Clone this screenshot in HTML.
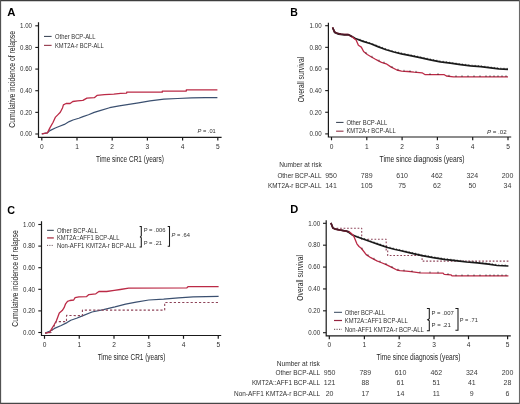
<!DOCTYPE html>
<html><head><meta charset="utf-8"><style>
html,body{margin:0;padding:0;background:#fff;}
#wrap{position:relative;width:520px;height:404px;overflow:hidden;background:#fff;}
svg{position:absolute;left:0;top:0;filter:blur(0.35px);}
text{font-family:"Liberation Sans", sans-serif;}
</style></head><body><div id="wrap">
<svg width="520" height="404" viewBox="0 0 520 404" font-family='"Liberation Sans", sans-serif'>
<rect x="0" y="0" width="520" height="404" fill="#fff"/>
<line x1="0" y1="0.55" x2="520" y2="0.55" stroke="#3d3d3d" stroke-width="1.2"/>
<line x1="0" y1="403.4" x2="520" y2="403.4" stroke="#474747" stroke-width="1.3"/>
<line x1="0.55" y1="0" x2="0.55" y2="404" stroke="#525252" stroke-width="1.15"/>
<line x1="519.5" y1="0" x2="519.5" y2="404" stroke="#6a6a6a" stroke-width="1.1"/>
<text x="7.2" y="16.4" font-size="11.5" text-anchor="start" fill="#000" font-weight="bold" textLength="8.2" lengthAdjust="spacingAndGlyphs">A</text>
<path d="M38.5,22.2 V137.3 H221.6" fill="none" stroke="#1a1a1a" stroke-width="1.2"/>
<line x1="35.3" y1="134.0" x2="38.5" y2="134.0" stroke="#1a1a1a" stroke-width="1.1"/>
<text x="32.0" y="136.25" font-size="6.3" text-anchor="end" fill="#303030" textLength="12.0" lengthAdjust="spacingAndGlyphs">0.00</text>
<line x1="35.3" y1="112.36" x2="38.5" y2="112.36" stroke="#1a1a1a" stroke-width="1.1"/>
<text x="32.0" y="114.61" font-size="6.3" text-anchor="end" fill="#303030" textLength="12.0" lengthAdjust="spacingAndGlyphs">0.20</text>
<line x1="35.3" y1="90.72" x2="38.5" y2="90.72" stroke="#1a1a1a" stroke-width="1.1"/>
<text x="32.0" y="92.97" font-size="6.3" text-anchor="end" fill="#303030" textLength="12.0" lengthAdjust="spacingAndGlyphs">0.40</text>
<line x1="35.3" y1="69.08" x2="38.5" y2="69.08" stroke="#1a1a1a" stroke-width="1.1"/>
<text x="32.0" y="71.33" font-size="6.3" text-anchor="end" fill="#303030" textLength="12.0" lengthAdjust="spacingAndGlyphs">0.60</text>
<line x1="35.3" y1="47.44" x2="38.5" y2="47.44" stroke="#1a1a1a" stroke-width="1.1"/>
<text x="32.0" y="49.69" font-size="6.3" text-anchor="end" fill="#303030" textLength="12.0" lengthAdjust="spacingAndGlyphs">0.80</text>
<line x1="35.3" y1="25.799999999999997" x2="38.5" y2="25.799999999999997" stroke="#1a1a1a" stroke-width="1.1"/>
<text x="32.0" y="28.05" font-size="6.3" text-anchor="end" fill="#303030" textLength="12.0" lengthAdjust="spacingAndGlyphs">1.00</text>
<line x1="41.8" y1="137.3" x2="41.8" y2="140.60000000000002" stroke="#1a1a1a" stroke-width="1.2"/>
<text x="41.8" y="149.1" font-size="6.6" text-anchor="middle" fill="#303030">0</text>
<line x1="77.0" y1="137.3" x2="77.0" y2="140.60000000000002" stroke="#1a1a1a" stroke-width="1.2"/>
<text x="77.0" y="149.1" font-size="6.6" text-anchor="middle" fill="#303030">1</text>
<line x1="112.2" y1="137.3" x2="112.2" y2="140.60000000000002" stroke="#1a1a1a" stroke-width="1.2"/>
<text x="112.2" y="149.1" font-size="6.6" text-anchor="middle" fill="#303030">2</text>
<line x1="147.4" y1="137.3" x2="147.4" y2="140.60000000000002" stroke="#1a1a1a" stroke-width="1.2"/>
<text x="147.4" y="149.1" font-size="6.6" text-anchor="middle" fill="#303030">3</text>
<line x1="182.60000000000002" y1="137.3" x2="182.60000000000002" y2="140.60000000000002" stroke="#1a1a1a" stroke-width="1.2"/>
<text x="182.60000000000002" y="149.1" font-size="6.6" text-anchor="middle" fill="#303030">4</text>
<line x1="217.8" y1="137.3" x2="217.8" y2="140.60000000000002" stroke="#1a1a1a" stroke-width="1.2"/>
<text x="217.8" y="149.1" font-size="6.6" text-anchor="middle" fill="#303030">5</text>
<text x="14.6" y="79.4" font-size="8.8" text-anchor="middle" fill="#1e1e1e" textLength="96.8" lengthAdjust="spacingAndGlyphs" transform="rotate(-90 14.6 79.4)">Cumulative incidence of relapse</text>
<text x="130.0" y="161.7" font-size="8.9" text-anchor="middle" fill="#1e1e1e" textLength="67.8" lengthAdjust="spacingAndGlyphs">Time since CR1 (years)</text>
<line x1="44.0" y1="36.4" x2="51.6" y2="36.4" stroke="#2e3a4c" stroke-width="1.0"/>
<text x="55.0" y="38.65" font-size="6.3" text-anchor="start" fill="#303030" textLength="40.6" lengthAdjust="spacingAndGlyphs">Other BCP-ALL</text>
<line x1="44.0" y1="45.4" x2="51.6" y2="45.4" stroke="#9a4556" stroke-width="1.2"/>
<text x="55.0" y="47.65" font-size="6.3" text-anchor="start" fill="#303030" textLength="48.8" lengthAdjust="spacingAndGlyphs">KMT2A-r BCP-ALL</text>
<text x="197.6" y="132.6" font-size="5.9" fill="#303030" textLength="18.2" lengthAdjust="spacingAndGlyphs"><tspan font-style="italic">P</tspan> = .01</text>
<polyline points="41.8,133.8 47.4,132.9 49.9,130.6 55.3,128.0 59.6,126.3 64.4,124.4 69.2,121.6 73.0,120.0 78.8,118.2 83.0,116.6 88.5,114.8 94.2,112.4 100.0,110.6 109.6,107.7 119.2,105.8 128.8,104.4 138.5,102.9 150.0,100.9 163.9,99.2 177.7,98.5 191.5,97.8 205.4,97.7 217.4,97.6" fill="none" stroke="#3b5070" stroke-width="1.2" stroke-linejoin="round"/>
<polyline points="41.8,133.8 47.4,132.9 49.9,127.9 53.1,122.3 55.5,117.1 58.0,114.6 60.3,112.2 62.6,107.7 63.4,104.8 66.1,103.5 70.1,103.5 72.8,101.5 77.5,100.8 82.9,100.4 86.9,98.1 94.3,97.7 97.0,95.4 104.4,94.7 113.8,94.1 120.6,93.3 126.7,93.1 126.7,92.2 162.3,92.2 162.3,91.1 186.3,91.1 186.3,89.9 217.4,89.9" fill="none" stroke="#bb2a46" stroke-width="1.3" stroke-linejoin="round"/>
<text x="290.2" y="16.4" font-size="11.5" text-anchor="start" fill="#000" font-weight="bold" textLength="7.6" lengthAdjust="spacingAndGlyphs">B</text>
<path d="M328.4,22.8 V137.0 H511.2" fill="none" stroke="#1a1a1a" stroke-width="1.2"/>
<line x1="325.2" y1="133.9" x2="328.4" y2="133.9" stroke="#1a1a1a" stroke-width="1.1"/>
<text x="321.6" y="136.15" font-size="6.3" text-anchor="end" fill="#303030" textLength="12.0" lengthAdjust="spacingAndGlyphs">0.00</text>
<line x1="325.2" y1="112.26" x2="328.4" y2="112.26" stroke="#1a1a1a" stroke-width="1.1"/>
<text x="321.6" y="114.51" font-size="6.3" text-anchor="end" fill="#303030" textLength="12.0" lengthAdjust="spacingAndGlyphs">0.20</text>
<line x1="325.2" y1="90.62" x2="328.4" y2="90.62" stroke="#1a1a1a" stroke-width="1.1"/>
<text x="321.6" y="92.87" font-size="6.3" text-anchor="end" fill="#303030" textLength="12.0" lengthAdjust="spacingAndGlyphs">0.40</text>
<line x1="325.2" y1="68.98" x2="328.4" y2="68.98" stroke="#1a1a1a" stroke-width="1.1"/>
<text x="321.6" y="71.23" font-size="6.3" text-anchor="end" fill="#303030" textLength="12.0" lengthAdjust="spacingAndGlyphs">0.60</text>
<line x1="325.2" y1="47.34" x2="328.4" y2="47.34" stroke="#1a1a1a" stroke-width="1.1"/>
<text x="321.6" y="49.59" font-size="6.3" text-anchor="end" fill="#303030" textLength="12.0" lengthAdjust="spacingAndGlyphs">0.80</text>
<line x1="325.2" y1="25.700000000000003" x2="328.4" y2="25.700000000000003" stroke="#1a1a1a" stroke-width="1.1"/>
<text x="321.6" y="27.95" font-size="6.3" text-anchor="end" fill="#303030" textLength="12.0" lengthAdjust="spacingAndGlyphs">1.00</text>
<line x1="331.5" y1="137.0" x2="331.5" y2="140.3" stroke="#1a1a1a" stroke-width="1.2"/>
<text x="331.5" y="149.3" font-size="6.6" text-anchor="middle" fill="#303030">0</text>
<line x1="366.8" y1="137.0" x2="366.8" y2="140.3" stroke="#1a1a1a" stroke-width="1.2"/>
<text x="366.8" y="149.3" font-size="6.6" text-anchor="middle" fill="#303030">1</text>
<line x1="402.1" y1="137.0" x2="402.1" y2="140.3" stroke="#1a1a1a" stroke-width="1.2"/>
<text x="402.1" y="149.3" font-size="6.6" text-anchor="middle" fill="#303030">2</text>
<line x1="437.4" y1="137.0" x2="437.4" y2="140.3" stroke="#1a1a1a" stroke-width="1.2"/>
<text x="437.4" y="149.3" font-size="6.6" text-anchor="middle" fill="#303030">3</text>
<line x1="472.7" y1="137.0" x2="472.7" y2="140.3" stroke="#1a1a1a" stroke-width="1.2"/>
<text x="472.7" y="149.3" font-size="6.6" text-anchor="middle" fill="#303030">4</text>
<line x1="508.0" y1="137.0" x2="508.0" y2="140.3" stroke="#1a1a1a" stroke-width="1.2"/>
<text x="508.0" y="149.3" font-size="6.6" text-anchor="middle" fill="#303030">5</text>
<text x="303.9" y="79.6" font-size="8.8" text-anchor="middle" fill="#1e1e1e" textLength="45.5" lengthAdjust="spacingAndGlyphs" transform="rotate(-90 303.9 79.6)">Overall survival</text>
<text x="422.1" y="161.7" font-size="8.9" text-anchor="middle" fill="#1e1e1e" textLength="85.0" lengthAdjust="spacingAndGlyphs">Time since diagnosis (years)</text>
<line x1="336.1" y1="122.4" x2="343.5" y2="122.4" stroke="#2e3a4c" stroke-width="1.0"/>
<text x="346.4" y="124.65" font-size="6.3" text-anchor="start" fill="#303030" textLength="40.8" lengthAdjust="spacingAndGlyphs">Other BCP-ALL</text>
<line x1="336.1" y1="131.2" x2="343.5" y2="131.2" stroke="#9a4556" stroke-width="1.2"/>
<text x="346.4" y="133.45" font-size="6.3" text-anchor="start" fill="#303030" textLength="49.3" lengthAdjust="spacingAndGlyphs">KMT2A-r BCP-ALL</text>
<text x="486.9" y="133.6" font-size="5.9" fill="#303030" textLength="19.8" lengthAdjust="spacingAndGlyphs"><tspan font-style="italic">P</tspan> = .02</text>
<text x="279.2" y="167.3" font-size="6.5" text-anchor="start" fill="#303030" textLength="42.5" lengthAdjust="spacingAndGlyphs">Number at risk</text>
<text x="321.6" y="177.8" font-size="6.5" text-anchor="end" fill="#303030" textLength="44.2" lengthAdjust="spacingAndGlyphs">Other BCP-ALL</text>
<text x="321.6" y="188.1" font-size="6.5" text-anchor="end" fill="#303030" textLength="53.5" lengthAdjust="spacingAndGlyphs">KMT2A-r BCP-ALL</text>
<text x="331" y="177.9" font-size="7.0" text-anchor="middle" fill="#3a3a3a">950</text>
<text x="331" y="188.2" font-size="7.0" text-anchor="middle" fill="#3a3a3a">141</text>
<text x="366.7" y="177.9" font-size="7.0" text-anchor="middle" fill="#3a3a3a">789</text>
<text x="366.7" y="188.2" font-size="7.0" text-anchor="middle" fill="#3a3a3a">105</text>
<text x="402.1" y="177.9" font-size="7.0" text-anchor="middle" fill="#3a3a3a">610</text>
<text x="402.1" y="188.2" font-size="7.0" text-anchor="middle" fill="#3a3a3a">75</text>
<text x="436.9" y="177.9" font-size="7.0" text-anchor="middle" fill="#3a3a3a">462</text>
<text x="436.9" y="188.2" font-size="7.0" text-anchor="middle" fill="#3a3a3a">62</text>
<text x="472.3" y="177.9" font-size="7.0" text-anchor="middle" fill="#3a3a3a">324</text>
<text x="472.3" y="188.2" font-size="7.0" text-anchor="middle" fill="#3a3a3a">50</text>
<text x="507.5" y="177.9" font-size="7.0" text-anchor="middle" fill="#3a3a3a">200</text>
<text x="507.5" y="188.2" font-size="7.0" text-anchor="middle" fill="#3a3a3a">34</text>
<polyline points="332.6,27.5 334.6,32.4 338.7,34.1 344.5,35.0 349.2,35.0 352.0,36.6 355.4,38.5 363.1,41.4 370.8,43.8 378.5,46.9 386.2,49.7 393.8,52.0 401.5,53.8 409.2,55.4 420.1,57.6 430.2,59.8 440.3,61.8 450.4,63.2 460.5,64.6 470.6,65.9 480.7,66.7 490.8,67.9 498.9,68.9 508.0,69.3" fill="none" stroke="#1c1c1c" stroke-width="1.7" stroke-linejoin="round"/>
<polyline points="332.6,27.5 334.6,32.0 336.9,33.2 340.9,34.1 344.5,34.5 348.0,34.4 352.0,36.8 354.7,38.9 356.1,40.0 358.4,45.2 361.3,47.1 363.6,51.5 367.3,54.5 371.0,56.7 375.0,59.0 378.0,60.6 381.5,62.3 386.2,63.8 390.8,66.9 396.9,70.0 401.5,71.2 407.7,71.5 414.0,72.2 422.1,72.8 425.2,74.7 444.3,74.7 446.4,76.0 453.4,76.8 508.0,76.8" fill="none" stroke="#bb2a46" stroke-width="1.3" stroke-linejoin="round"/>
<polyline points="332.6,27.5 334.6,32.0 336.9,33.2 340.9,34.1 344.5,34.5 348.0,34.4 352.0,36.8" fill="none" stroke="#4a1a28" stroke-width="1.5" stroke-linejoin="round"/>
<line x1="360.0" y1="38.83246753246753" x2="360.0" y2="40.432467532467534" stroke="#111" stroke-width="0.6"/>
<line x1="363.2" y1="40.03116883116882" x2="363.2" y2="41.63116883116882" stroke="#111" stroke-width="0.6"/>
<line x1="366.4" y1="41.02857142857142" x2="366.4" y2="42.62857142857142" stroke="#111" stroke-width="0.6"/>
<line x1="369.59999999999997" y1="42.02597402597401" x2="369.59999999999997" y2="43.62597402597401" stroke="#111" stroke-width="0.6"/>
<line x1="372.79999999999995" y1="43.205194805194786" x2="372.79999999999995" y2="44.80519480519479" stroke="#111" stroke-width="0.6"/>
<line x1="375.99999999999994" y1="44.493506493506466" x2="375.99999999999994" y2="46.09350649350647" stroke="#111" stroke-width="0.6"/>
<line x1="379.19999999999993" y1="45.75454545454543" x2="379.19999999999993" y2="47.35454545454543" stroke="#111" stroke-width="0.6"/>
<line x1="382.3999999999999" y1="46.91818181818179" x2="382.3999999999999" y2="48.518181818181795" stroke="#111" stroke-width="0.6"/>
<line x1="385.5999999999999" y1="48.08181818181816" x2="385.5999999999999" y2="49.68181818181816" stroke="#111" stroke-width="0.6"/>
<line x1="388.7999999999999" y1="49.08684210526313" x2="388.7999999999999" y2="50.68684210526313" stroke="#111" stroke-width="0.6"/>
<line x1="391.9999999999999" y1="50.0552631578947" x2="391.9999999999999" y2="51.6552631578947" stroke="#111" stroke-width="0.6"/>
<line x1="395.1999999999999" y1="50.927272727272694" x2="395.1999999999999" y2="52.527272727272695" stroke="#111" stroke-width="0.6"/>
<line x1="398.39999999999986" y1="51.67532467532464" x2="398.39999999999986" y2="53.27532467532464" stroke="#111" stroke-width="0.6"/>
<line x1="401.59999999999985" y1="52.42077922077919" x2="401.59999999999985" y2="54.02077922077919" stroke="#111" stroke-width="0.6"/>
<line x1="404.79999999999984" y1="53.08571428571425" x2="404.79999999999984" y2="54.685714285714255" stroke="#111" stroke-width="0.6"/>
<line x1="407.99999999999983" y1="53.75064935064932" x2="407.99999999999983" y2="55.35064935064932" stroke="#111" stroke-width="0.6"/>
<line x1="411.1999999999998" y1="54.40366972477061" x2="411.1999999999998" y2="56.00366972477061" stroke="#111" stroke-width="0.6"/>
<line x1="414.3999999999998" y1="55.04954128440363" x2="414.3999999999998" y2="56.64954128440363" stroke="#111" stroke-width="0.6"/>
<line x1="417.5999999999998" y1="55.69541284403665" x2="417.5999999999998" y2="57.295412844036655" stroke="#111" stroke-width="0.6"/>
<line x1="420.7999999999998" y1="56.3524752475247" x2="420.7999999999998" y2="57.9524752475247" stroke="#111" stroke-width="0.6"/>
<line x1="423.9999999999998" y1="57.049504950495" x2="423.9999999999998" y2="58.649504950495" stroke="#111" stroke-width="0.6"/>
<line x1="427.19999999999976" y1="57.7465346534653" x2="427.19999999999976" y2="59.3465346534653" stroke="#111" stroke-width="0.6"/>
<line x1="430.39999999999975" y1="58.43960396039599" x2="430.39999999999975" y2="60.03960396039599" stroke="#111" stroke-width="0.6"/>
<line x1="433.59999999999974" y1="59.07326732673262" x2="433.59999999999974" y2="60.67326732673262" stroke="#111" stroke-width="0.6"/>
<line x1="436.7999999999997" y1="59.70693069306925" x2="436.7999999999997" y2="61.306930693069255" stroke="#111" stroke-width="0.6"/>
<line x1="439.9999999999997" y1="60.34059405940588" x2="439.9999999999997" y2="61.94059405940588" stroke="#111" stroke-width="0.6"/>
<line x1="443.1999999999997" y1="60.80198019801976" x2="443.1999999999997" y2="62.401980198019764" stroke="#111" stroke-width="0.6"/>
<line x1="446.3999999999997" y1="61.24554455445541" x2="446.3999999999997" y2="62.84554455445541" stroke="#111" stroke-width="0.6"/>
<line x1="449.5999999999997" y1="61.68910891089105" x2="449.5999999999997" y2="63.28910891089105" stroke="#111" stroke-width="0.6"/>
<line x1="452.79999999999967" y1="62.132673267326695" x2="452.79999999999967" y2="63.732673267326696" stroke="#111" stroke-width="0.6"/>
<line x1="455.99999999999966" y1="62.57623762376233" x2="455.99999999999966" y2="64.17623762376233" stroke="#111" stroke-width="0.6"/>
<line x1="459.19999999999965" y1="63.019801980197975" x2="459.19999999999965" y2="64.61980198019798" stroke="#111" stroke-width="0.6"/>
<line x1="462.39999999999964" y1="63.44455445544549" x2="462.39999999999964" y2="65.04455445544549" stroke="#111" stroke-width="0.6"/>
<line x1="465.5999999999996" y1="63.8564356435643" x2="465.5999999999996" y2="65.4564356435643" stroke="#111" stroke-width="0.6"/>
<line x1="468.7999999999996" y1="64.26831683168311" x2="468.7999999999996" y2="65.86831683168312" stroke="#111" stroke-width="0.6"/>
<line x1="471.9999999999996" y1="64.61089108910888" x2="471.9999999999996" y2="66.21089108910888" stroke="#111" stroke-width="0.6"/>
<line x1="475.1999999999996" y1="64.86435643564353" x2="475.1999999999996" y2="66.46435643564354" stroke="#111" stroke-width="0.6"/>
<line x1="478.3999999999996" y1="65.11782178217818" x2="478.3999999999996" y2="66.71782178217819" stroke="#111" stroke-width="0.6"/>
<line x1="481.59999999999957" y1="65.40693069306926" x2="481.59999999999957" y2="67.00693069306926" stroke="#111" stroke-width="0.6"/>
<line x1="484.79999999999956" y1="65.78712871287124" x2="484.79999999999956" y2="67.38712871287125" stroke="#111" stroke-width="0.6"/>
<line x1="487.99999999999955" y1="66.16732673267322" x2="487.99999999999955" y2="67.76732673267323" stroke="#111" stroke-width="0.6"/>
<line x1="491.19999999999953" y1="66.54938271604932" x2="491.19999999999953" y2="68.14938271604933" stroke="#111" stroke-width="0.6"/>
<line x1="494.3999999999995" y1="66.94444444444439" x2="494.3999999999995" y2="68.5444444444444" stroke="#111" stroke-width="0.6"/>
<line x1="497.5999999999995" y1="67.33950617283945" x2="497.5999999999995" y2="68.93950617283946" stroke="#111" stroke-width="0.6"/>
<line x1="500.7999999999995" y1="67.58351648351646" x2="500.7999999999995" y2="69.18351648351647" stroke="#111" stroke-width="0.6"/>
<line x1="503.9999999999995" y1="67.7241758241758" x2="503.9999999999995" y2="69.32417582417581" stroke="#111" stroke-width="0.6"/>
<line x1="507.1999999999995" y1="67.86483516483513" x2="507.1999999999995" y2="69.46483516483514" stroke="#111" stroke-width="0.6"/>
<line x1="366" y1="51.94594594594594" x2="366" y2="53.64594594594594" stroke="#111" stroke-width="0.6"/>
<line x1="372" y1="55.775000000000006" x2="372" y2="57.47500000000001" stroke="#111" stroke-width="0.6"/>
<line x1="379" y1="59.58571428571429" x2="379" y2="61.28571428571429" stroke="#111" stroke-width="0.6"/>
<line x1="384" y1="61.59787234042553" x2="384" y2="63.297872340425535" stroke="#111" stroke-width="0.6"/>
<line x1="392" y1="66.00983606557378" x2="392" y2="67.70983606557378" stroke="#111" stroke-width="0.6"/>
<line x1="398" y1="68.78695652173914" x2="398" y2="70.48695652173915" stroke="#111" stroke-width="0.6"/>
<line x1="404" y1="69.82096774193549" x2="404" y2="71.5209677419355" stroke="#111" stroke-width="0.6"/>
<line x1="410" y1="70.25555555555556" x2="410" y2="71.95555555555556" stroke="#111" stroke-width="0.6"/>
<line x1="416" y1="70.84814814814816" x2="416" y2="72.54814814814816" stroke="#111" stroke-width="0.6"/>
<line x1="430" y1="73.2" x2="430" y2="74.9" stroke="#111" stroke-width="0.6"/>
<line x1="438" y1="73.2" x2="438" y2="74.9" stroke="#111" stroke-width="0.6"/>
<line x1="449" y1="74.79714285714286" x2="449" y2="76.49714285714286" stroke="#111" stroke-width="0.6"/>
<line x1="456" y1="75.3" x2="456" y2="77.0" stroke="#111" stroke-width="0.6"/>
<line x1="462" y1="75.3" x2="462" y2="77.0" stroke="#111" stroke-width="0.6"/>
<line x1="468" y1="75.3" x2="468" y2="77.0" stroke="#111" stroke-width="0.6"/>
<line x1="474" y1="75.3" x2="474" y2="77.0" stroke="#111" stroke-width="0.6"/>
<line x1="480" y1="75.3" x2="480" y2="77.0" stroke="#111" stroke-width="0.6"/>
<line x1="486" y1="75.3" x2="486" y2="77.0" stroke="#111" stroke-width="0.6"/>
<line x1="490" y1="75.3" x2="490" y2="77.0" stroke="#111" stroke-width="0.6"/>
<line x1="494" y1="75.3" x2="494" y2="77.0" stroke="#111" stroke-width="0.6"/>
<line x1="498" y1="75.3" x2="498" y2="77.0" stroke="#111" stroke-width="0.6"/>
<line x1="502" y1="75.3" x2="502" y2="77.0" stroke="#111" stroke-width="0.6"/>
<line x1="506" y1="75.3" x2="506" y2="77.0" stroke="#111" stroke-width="0.6"/>
<text x="7.2" y="213.6" font-size="11.5" text-anchor="start" fill="#000" font-weight="bold" textLength="7.8" lengthAdjust="spacingAndGlyphs">C</text>
<path d="M41.5,221.2 V335.5 H221.2" fill="none" stroke="#1a1a1a" stroke-width="1.2"/>
<line x1="38.3" y1="332.5" x2="41.5" y2="332.5" stroke="#1a1a1a" stroke-width="1.1"/>
<text x="35.0" y="334.75" font-size="6.3" text-anchor="end" fill="#303030" textLength="12.0" lengthAdjust="spacingAndGlyphs">0.00</text>
<line x1="38.3" y1="310.9" x2="41.5" y2="310.9" stroke="#1a1a1a" stroke-width="1.1"/>
<text x="35.0" y="313.15" font-size="6.3" text-anchor="end" fill="#303030" textLength="12.0" lengthAdjust="spacingAndGlyphs">0.20</text>
<line x1="38.3" y1="289.3" x2="41.5" y2="289.3" stroke="#1a1a1a" stroke-width="1.1"/>
<text x="35.0" y="291.55" font-size="6.3" text-anchor="end" fill="#303030" textLength="12.0" lengthAdjust="spacingAndGlyphs">0.40</text>
<line x1="38.3" y1="267.7" x2="41.5" y2="267.7" stroke="#1a1a1a" stroke-width="1.1"/>
<text x="35.0" y="269.95" font-size="6.3" text-anchor="end" fill="#303030" textLength="12.0" lengthAdjust="spacingAndGlyphs">0.60</text>
<line x1="38.3" y1="246.1" x2="41.5" y2="246.1" stroke="#1a1a1a" stroke-width="1.1"/>
<text x="35.0" y="248.35" font-size="6.3" text-anchor="end" fill="#303030" textLength="12.0" lengthAdjust="spacingAndGlyphs">0.80</text>
<line x1="38.3" y1="224.5" x2="41.5" y2="224.5" stroke="#1a1a1a" stroke-width="1.1"/>
<text x="35.0" y="226.75" font-size="6.3" text-anchor="end" fill="#303030" textLength="12.0" lengthAdjust="spacingAndGlyphs">1.00</text>
<line x1="44.5" y1="335.5" x2="44.5" y2="338.8" stroke="#1a1a1a" stroke-width="1.2"/>
<text x="44.5" y="347.3" font-size="6.6" text-anchor="middle" fill="#303030">0</text>
<line x1="79.25" y1="335.5" x2="79.25" y2="338.8" stroke="#1a1a1a" stroke-width="1.2"/>
<text x="79.25" y="347.3" font-size="6.6" text-anchor="middle" fill="#303030">1</text>
<line x1="114.0" y1="335.5" x2="114.0" y2="338.8" stroke="#1a1a1a" stroke-width="1.2"/>
<text x="114.0" y="347.3" font-size="6.6" text-anchor="middle" fill="#303030">2</text>
<line x1="148.75" y1="335.5" x2="148.75" y2="338.8" stroke="#1a1a1a" stroke-width="1.2"/>
<text x="148.75" y="347.3" font-size="6.6" text-anchor="middle" fill="#303030">3</text>
<line x1="183.5" y1="335.5" x2="183.5" y2="338.8" stroke="#1a1a1a" stroke-width="1.2"/>
<text x="183.5" y="347.3" font-size="6.6" text-anchor="middle" fill="#303030">4</text>
<line x1="218.25" y1="335.5" x2="218.25" y2="338.8" stroke="#1a1a1a" stroke-width="1.2"/>
<text x="218.25" y="347.3" font-size="6.6" text-anchor="middle" fill="#303030">5</text>
<text x="17.7" y="278.5" font-size="8.8" text-anchor="middle" fill="#1e1e1e" textLength="96.4" lengthAdjust="spacingAndGlyphs" transform="rotate(-90 17.7 278.5)">Cumulative incidence of relapse</text>
<text x="131.5" y="360.1" font-size="8.9" text-anchor="middle" fill="#1e1e1e" textLength="67.7" lengthAdjust="spacingAndGlyphs">Time since CR1 (years)</text>
<line x1="47.1" y1="230.3" x2="53.8" y2="230.3" stroke="#263444" stroke-width="1.0"/>
<text x="56.9" y="232.55" font-size="6.3" text-anchor="start" fill="#303030" textLength="41.0" lengthAdjust="spacingAndGlyphs">Other BCP-ALL</text>
<line x1="47.1" y1="237.9" x2="53.8" y2="237.9" stroke="#c06a78" stroke-width="1.8"/>
<text x="56.9" y="240.15" font-size="6.3" text-anchor="start" fill="#303030" textLength="62.6" lengthAdjust="spacingAndGlyphs">KMT2A::AFF1 BCP-ALL</text>
<line x1="47.1" y1="245.4" x2="53.8" y2="245.4" stroke="#5a4048" stroke-width="1.0" stroke-dasharray="1,1.3"/>
<text x="56.9" y="247.65" font-size="6.3" text-anchor="start" fill="#303030" textLength="79.4" lengthAdjust="spacingAndGlyphs">Non-AFF1 KMT2A-r BCP-ALL</text>
<path d="M139.6,226.5 H141.3 V235.9 L140.4,236.9 L141.3,237.9 V246.9 H139.6" fill="none" stroke="#1a1a1a" stroke-width="1.05"/>
<path d="M167.7,226.5 H169.5 V246.3 H167.7" fill="none" stroke="#1a1a1a" stroke-width="1.05"/>
<text x="143.7" y="232.3" font-size="6.1" text-anchor="start" fill="#303030" textLength="21.8" lengthAdjust="spacingAndGlyphs">P = .006</text>
<text x="143.7" y="244.7" font-size="6.1" text-anchor="start" fill="#303030" textLength="18.4" lengthAdjust="spacingAndGlyphs">P = .21</text>
<text x="171.6" y="237.3" font-size="5.9" fill="#303030" textLength="18.4" lengthAdjust="spacingAndGlyphs"><tspan font-style="italic">P</tspan> = .64</text>
<polyline points="45.1,333.1 50.7,330.8 54.5,328.4 61.2,325.5 67.0,322.6 70.8,320.2 76.6,318.3 82.4,315.9 92.0,312.0 103.5,309.7 112.8,307.4 115.0,306.9 125.6,304.2 136.1,302.1 148.8,300.0 163.6,299.1 178.4,297.8 193.2,296.8 218.6,296.4" fill="none" stroke="#3b5070" stroke-width="1.2" stroke-linejoin="round"/>
<polyline points="45.1,333.1 49.7,332.3 51.6,328.8 54.0,325.0 56.4,320.7 57.9,316.8 59.3,313.0 62.2,310.6 64.1,307.7 65.6,303.8 67.5,301.4 69.9,300.5 73.7,300.0 75.1,297.7 78.9,296.9 86.6,296.6 88.9,294.6 95.8,293.8 98.9,291.5 106.6,291.5 114.3,290.4 120.3,289.5 128.7,288.2 186.9,287.8 188.0,286.7 218.6,286.7" fill="none" stroke="#bb2a46" stroke-width="1.3" stroke-linejoin="round"/>
<polyline points="45.1,333.1 51.6,332.5 51.6,330.8 56.4,321.6 66.5,321.6 66.5,315.4 82.4,315.7 82.4,310.1 164.7,310.1 164.7,302.5 218.6,302.5" fill="none" stroke="#8e4459" stroke-width="1.1" stroke-linejoin="round" stroke-dasharray="2.2,2.0"/>
<text x="290.2" y="213.2" font-size="11.5" text-anchor="start" fill="#000" font-weight="bold" textLength="8.0" lengthAdjust="spacingAndGlyphs">D</text>
<path d="M326.2,220.3 V335.9 H510.8" fill="none" stroke="#1a1a1a" stroke-width="1.2"/>
<line x1="323.0" y1="332.7" x2="326.2" y2="332.7" stroke="#1a1a1a" stroke-width="1.1"/>
<text x="320.2" y="334.95" font-size="6.3" text-anchor="end" fill="#303030" textLength="12.0" lengthAdjust="spacingAndGlyphs">0.00</text>
<line x1="323.0" y1="310.82" x2="326.2" y2="310.82" stroke="#1a1a1a" stroke-width="1.1"/>
<text x="320.2" y="313.07" font-size="6.3" text-anchor="end" fill="#303030" textLength="12.0" lengthAdjust="spacingAndGlyphs">0.20</text>
<line x1="323.0" y1="288.94" x2="326.2" y2="288.94" stroke="#1a1a1a" stroke-width="1.1"/>
<text x="320.2" y="291.19" font-size="6.3" text-anchor="end" fill="#303030" textLength="12.0" lengthAdjust="spacingAndGlyphs">0.40</text>
<line x1="323.0" y1="267.06" x2="326.2" y2="267.06" stroke="#1a1a1a" stroke-width="1.1"/>
<text x="320.2" y="269.31" font-size="6.3" text-anchor="end" fill="#303030" textLength="12.0" lengthAdjust="spacingAndGlyphs">0.60</text>
<line x1="323.0" y1="245.17999999999998" x2="326.2" y2="245.17999999999998" stroke="#1a1a1a" stroke-width="1.1"/>
<text x="320.2" y="247.43" font-size="6.3" text-anchor="end" fill="#303030" textLength="12.0" lengthAdjust="spacingAndGlyphs">0.80</text>
<line x1="323.0" y1="223.29999999999998" x2="326.2" y2="223.29999999999998" stroke="#1a1a1a" stroke-width="1.1"/>
<text x="320.2" y="225.55" font-size="6.3" text-anchor="end" fill="#303030" textLength="12.0" lengthAdjust="spacingAndGlyphs">1.00</text>
<line x1="329.3" y1="335.9" x2="329.3" y2="339.2" stroke="#1a1a1a" stroke-width="1.2"/>
<text x="329.3" y="347.3" font-size="6.6" text-anchor="middle" fill="#303030">0</text>
<line x1="364.4" y1="335.9" x2="364.4" y2="339.2" stroke="#1a1a1a" stroke-width="1.2"/>
<text x="364.4" y="347.3" font-size="6.6" text-anchor="middle" fill="#303030">1</text>
<line x1="399.2" y1="335.9" x2="399.2" y2="339.2" stroke="#1a1a1a" stroke-width="1.2"/>
<text x="399.2" y="347.3" font-size="6.6" text-anchor="middle" fill="#303030">2</text>
<line x1="434.0" y1="335.9" x2="434.0" y2="339.2" stroke="#1a1a1a" stroke-width="1.2"/>
<text x="434.0" y="347.3" font-size="6.6" text-anchor="middle" fill="#303030">3</text>
<line x1="468.5" y1="335.9" x2="468.5" y2="339.2" stroke="#1a1a1a" stroke-width="1.2"/>
<text x="468.5" y="347.3" font-size="6.6" text-anchor="middle" fill="#303030">4</text>
<line x1="507.6" y1="335.9" x2="507.6" y2="339.2" stroke="#1a1a1a" stroke-width="1.2"/>
<text x="507.6" y="347.3" font-size="6.6" text-anchor="middle" fill="#303030">5</text>
<text x="302.7" y="277.8" font-size="8.8" text-anchor="middle" fill="#1e1e1e" textLength="45.7" lengthAdjust="spacingAndGlyphs" transform="rotate(-90 302.7 277.8)">Overall survival</text>
<text x="418.5" y="360.0" font-size="8.9" text-anchor="middle" fill="#1e1e1e" textLength="83.9" lengthAdjust="spacingAndGlyphs">Time since diagnosis (years)</text>
<line x1="334.0" y1="312.3" x2="342.0" y2="312.3" stroke="#33455c" stroke-width="1.0"/>
<text x="344.8" y="314.55" font-size="6.3" text-anchor="start" fill="#303030" textLength="40.4" lengthAdjust="spacingAndGlyphs">Other BCP-ALL</text>
<line x1="334.0" y1="320.5" x2="342.0" y2="320.5" stroke="#952440" stroke-width="1.2"/>
<text x="344.8" y="322.75" font-size="6.3" text-anchor="start" fill="#303030" textLength="62.9" lengthAdjust="spacingAndGlyphs">KMT2A::AFF1 BCP-ALL</text>
<line x1="334.0" y1="329.3" x2="342.0" y2="329.3" stroke="#5a4048" stroke-width="1.0" stroke-dasharray="1.2,1.3"/>
<text x="344.8" y="331.55" font-size="6.3" text-anchor="start" fill="#303030" textLength="79.0" lengthAdjust="spacingAndGlyphs">Non-AFF1 KMT2A-r BCP-ALL</text>
<path d="M426.9,308.5 H429.3 V318.7 L427.7,319.7 L429.3,320.7 V330.8 H426.9" fill="none" stroke="#1a1a1a" stroke-width="1.05"/>
<path d="M455.4,308.5 H458.0 V330.2 H455.4" fill="none" stroke="#1a1a1a" stroke-width="1.05"/>
<text x="431.6" y="314.5" font-size="6.1" text-anchor="start" fill="#303030" textLength="22.2" lengthAdjust="spacingAndGlyphs">P = .007</text>
<text x="431.6" y="326.8" font-size="6.1" text-anchor="start" fill="#303030" textLength="19.2" lengthAdjust="spacingAndGlyphs">P = .21</text>
<text x="459.8" y="322.2" font-size="6.1" text-anchor="start" fill="#303030" textLength="18.0" lengthAdjust="spacingAndGlyphs">P = .71</text>
<text x="276.7" y="365.5" font-size="6.5" text-anchor="start" fill="#303030" textLength="43.1" lengthAdjust="spacingAndGlyphs">Number at risk</text>
<text x="320.1" y="375.2" font-size="6.5" text-anchor="end" fill="#303030" textLength="44.7" lengthAdjust="spacingAndGlyphs">Other BCP-ALL</text>
<text x="320.1" y="385.3" font-size="6.5" text-anchor="end" fill="#303030" textLength="68.2" lengthAdjust="spacingAndGlyphs">KMT2A::AFF1 BCP-ALL</text>
<text x="320.1" y="395.6" font-size="6.5" text-anchor="end" fill="#303030" textLength="86.1" lengthAdjust="spacingAndGlyphs">Non-AFF1 KMT2A-r BCP-ALL</text>
<text x="329.6" y="375.3" font-size="7.0" text-anchor="middle" fill="#3a3a3a">950</text>
<text x="329.6" y="385.4" font-size="7.0" text-anchor="middle" fill="#3a3a3a">121</text>
<text x="329.6" y="395.7" font-size="7.0" text-anchor="middle" fill="#3a3a3a">20</text>
<text x="365.3" y="375.3" font-size="7.0" text-anchor="middle" fill="#3a3a3a">789</text>
<text x="365.3" y="385.4" font-size="7.0" text-anchor="middle" fill="#3a3a3a">88</text>
<text x="365.3" y="395.7" font-size="7.0" text-anchor="middle" fill="#3a3a3a">17</text>
<text x="400.5" y="375.3" font-size="7.0" text-anchor="middle" fill="#3a3a3a">610</text>
<text x="400.5" y="385.4" font-size="7.0" text-anchor="middle" fill="#3a3a3a">61</text>
<text x="400.5" y="395.7" font-size="7.0" text-anchor="middle" fill="#3a3a3a">14</text>
<text x="436.3" y="375.3" font-size="7.0" text-anchor="middle" fill="#3a3a3a">462</text>
<text x="436.3" y="385.4" font-size="7.0" text-anchor="middle" fill="#3a3a3a">51</text>
<text x="436.3" y="395.7" font-size="7.0" text-anchor="middle" fill="#3a3a3a">11</text>
<text x="471.8" y="375.3" font-size="7.0" text-anchor="middle" fill="#3a3a3a">324</text>
<text x="471.8" y="385.4" font-size="7.0" text-anchor="middle" fill="#3a3a3a">41</text>
<text x="471.8" y="395.7" font-size="7.0" text-anchor="middle" fill="#3a3a3a">9</text>
<text x="507.5" y="375.3" font-size="7.0" text-anchor="middle" fill="#3a3a3a">200</text>
<text x="507.5" y="385.4" font-size="7.0" text-anchor="middle" fill="#3a3a3a">28</text>
<text x="507.5" y="395.7" font-size="7.0" text-anchor="middle" fill="#3a3a3a">6</text>
<polyline points="336.6,228.2 361.7,228.2 361.7,239.3 386.2,239.3 386.2,250.2 387.7,250.2 387.7,255.5 422.1,255.5 422.1,261.1 508.4,261.1" fill="none" stroke="#8e4459" stroke-width="1.1" stroke-linejoin="round" stroke-dasharray="1.7,1.8"/>
<polyline points="330.9,222.9 332.9,228.0 335.2,229.1 339.8,230.0 346.0,231.1 349.1,232.6 352.2,234.9 356.8,236.8 364.5,239.5 372.2,242.3 379.8,244.9 387.5,247.5 395.2,249.5 400.0,250.5 411.1,253.1 422.1,255.6 433.2,257.6 444.2,259.3 455.3,260.7 466.4,262.0 477.4,262.9 488.5,264.2 497.3,265.5 508.4,266.0" fill="none" stroke="#1c1c1c" stroke-width="1.7" stroke-linejoin="round"/>
<polyline points="330.9,222.9 332.9,228.0 335.2,229.1 339.8,230.0 346.0,231.1 349.2,231.8 351.4,233.5 353.8,236.2 356.9,243.8 359.0,246.5 361.5,248.5 366.2,254.6 370.8,257.7 376.9,260.8 381.0,262.5 386.2,264.6 392.3,267.7 396.9,270.0 400.0,270.7 406.2,271.2 411.1,271.7 419.9,272.9 443.1,273.1 444.2,274.4 450.9,274.8 452.0,275.9 508.4,275.9" fill="none" stroke="#bb2a46" stroke-width="1.3" stroke-linejoin="round"/>
<polyline points="330.9,222.9 332.9,228.0 335.2,229.1 339.8,230.0 346.0,231.1 349.2,231.8" fill="none" stroke="#4a1a28" stroke-width="1.5" stroke-linejoin="round"/>
<line x1="358.0" y1="235.82077922077923" x2="358.0" y2="237.42077922077922" stroke="#111" stroke-width="0.6"/>
<line x1="361.2" y1="236.94285714285715" x2="361.2" y2="238.54285714285714" stroke="#111" stroke-width="0.6"/>
<line x1="364.4" y1="238.06493506493504" x2="364.4" y2="239.66493506493504" stroke="#111" stroke-width="0.6"/>
<line x1="367.59999999999997" y1="239.22727272727272" x2="367.59999999999997" y2="240.8272727272727" stroke="#111" stroke-width="0.6"/>
<line x1="370.79999999999995" y1="240.39090909090908" x2="370.79999999999995" y2="241.99090909090907" stroke="#111" stroke-width="0.6"/>
<line x1="373.99999999999994" y1="241.5157894736842" x2="373.99999999999994" y2="243.1157894736842" stroke="#111" stroke-width="0.6"/>
<line x1="377.19999999999993" y1="242.61052631578946" x2="377.19999999999993" y2="244.21052631578945" stroke="#111" stroke-width="0.6"/>
<line x1="380.3999999999999" y1="243.70259740259738" x2="380.3999999999999" y2="245.30259740259737" stroke="#111" stroke-width="0.6"/>
<line x1="383.5999999999999" y1="244.78311688311686" x2="383.5999999999999" y2="246.38311688311686" stroke="#111" stroke-width="0.6"/>
<line x1="386.7999999999999" y1="245.86363636363632" x2="386.7999999999999" y2="247.4636363636363" stroke="#111" stroke-width="0.6"/>
<line x1="389.9999999999999" y1="246.74935064935062" x2="389.9999999999999" y2="248.3493506493506" stroke="#111" stroke-width="0.6"/>
<line x1="393.1999999999999" y1="247.58051948051946" x2="393.1999999999999" y2="249.18051948051945" stroke="#111" stroke-width="0.6"/>
<line x1="396.39999999999986" y1="248.34999999999997" x2="396.39999999999986" y2="249.94999999999996" stroke="#111" stroke-width="0.6"/>
<line x1="399.59999999999985" y1="249.01666666666662" x2="399.59999999999985" y2="250.61666666666662" stroke="#111" stroke-width="0.6"/>
<line x1="402.79999999999984" y1="249.7558558558558" x2="402.79999999999984" y2="251.3558558558558" stroke="#111" stroke-width="0.6"/>
<line x1="405.99999999999983" y1="250.50540540540536" x2="405.99999999999983" y2="252.10540540540535" stroke="#111" stroke-width="0.6"/>
<line x1="409.1999999999998" y1="251.2549549549549" x2="409.1999999999998" y2="252.8549549549549" stroke="#111" stroke-width="0.6"/>
<line x1="412.3999999999998" y1="251.9954545454545" x2="412.3999999999998" y2="253.5954545454545" stroke="#111" stroke-width="0.6"/>
<line x1="415.5999999999998" y1="252.7227272727272" x2="415.5999999999998" y2="254.3227272727272" stroke="#111" stroke-width="0.6"/>
<line x1="418.7999999999998" y1="253.44999999999993" x2="418.7999999999998" y2="255.04999999999993" stroke="#111" stroke-width="0.6"/>
<line x1="421.9999999999998" y1="254.17727272727265" x2="421.9999999999998" y2="255.77727272727265" stroke="#111" stroke-width="0.6"/>
<line x1="425.19999999999976" y1="254.75855855855852" x2="425.19999999999976" y2="256.3585585585585" stroke="#111" stroke-width="0.6"/>
<line x1="428.39999999999975" y1="255.33513513513512" x2="428.39999999999975" y2="256.9351351351351" stroke="#111" stroke-width="0.6"/>
<line x1="431.59999999999974" y1="255.91171171171166" x2="431.59999999999974" y2="257.51171171171165" stroke="#111" stroke-width="0.6"/>
<line x1="434.7999999999997" y1="256.4472727272727" x2="434.7999999999997" y2="258.0472727272727" stroke="#111" stroke-width="0.6"/>
<line x1="437.9999999999997" y1="256.9418181818182" x2="437.9999999999997" y2="258.54181818181814" stroke="#111" stroke-width="0.6"/>
<line x1="441.1999999999997" y1="257.43636363636364" x2="441.1999999999997" y2="259.0363636363636" stroke="#111" stroke-width="0.6"/>
<line x1="444.3999999999997" y1="257.92522522522523" x2="444.3999999999997" y2="259.5252252252252" stroke="#111" stroke-width="0.6"/>
<line x1="447.5999999999997" y1="258.3288288288288" x2="447.5999999999997" y2="259.9288288288288" stroke="#111" stroke-width="0.6"/>
<line x1="450.79999999999967" y1="258.7324324324324" x2="450.79999999999967" y2="260.33243243243237" stroke="#111" stroke-width="0.6"/>
<line x1="453.99999999999966" y1="259.136036036036" x2="453.99999999999966" y2="260.73603603603596" stroke="#111" stroke-width="0.6"/>
<line x1="457.19999999999965" y1="259.5225225225225" x2="457.19999999999965" y2="261.12252252252244" stroke="#111" stroke-width="0.6"/>
<line x1="460.39999999999964" y1="259.89729729729726" x2="460.39999999999964" y2="261.4972972972972" stroke="#111" stroke-width="0.6"/>
<line x1="463.5999999999996" y1="260.27207207207204" x2="463.5999999999996" y2="261.872072072072" stroke="#111" stroke-width="0.6"/>
<line x1="466.7999999999996" y1="260.63272727272727" x2="466.7999999999996" y2="262.23272727272723" stroke="#111" stroke-width="0.6"/>
<line x1="469.9999999999996" y1="260.89454545454544" x2="469.9999999999996" y2="262.4945454545454" stroke="#111" stroke-width="0.6"/>
<line x1="473.1999999999996" y1="261.1563636363636" x2="473.1999999999996" y2="262.7563636363636" stroke="#111" stroke-width="0.6"/>
<line x1="476.3999999999996" y1="261.4181818181818" x2="476.3999999999996" y2="263.01818181818174" stroke="#111" stroke-width="0.6"/>
<line x1="479.59999999999957" y1="261.7576576576576" x2="479.59999999999957" y2="263.35765765765757" stroke="#111" stroke-width="0.6"/>
<line x1="482.79999999999956" y1="262.1324324324324" x2="482.79999999999956" y2="263.73243243243235" stroke="#111" stroke-width="0.6"/>
<line x1="485.99999999999955" y1="262.50720720720716" x2="485.99999999999955" y2="264.1072072072071" stroke="#111" stroke-width="0.6"/>
<line x1="489.19999999999953" y1="262.903409090909" x2="489.19999999999953" y2="264.503409090909" stroke="#111" stroke-width="0.6"/>
<line x1="492.3999999999995" y1="263.3761363636363" x2="492.3999999999995" y2="264.9761363636363" stroke="#111" stroke-width="0.6"/>
<line x1="495.5999999999995" y1="263.8488636363636" x2="495.5999999999995" y2="265.44886363636357" stroke="#111" stroke-width="0.6"/>
<line x1="498.7999999999995" y1="264.1675675675676" x2="498.7999999999995" y2="265.76756756756754" stroke="#111" stroke-width="0.6"/>
<line x1="501.9999999999995" y1="264.3117117117117" x2="501.9999999999995" y2="265.9117117117117" stroke="#111" stroke-width="0.6"/>
<line x1="505.1999999999995" y1="264.4558558558559" x2="505.1999999999995" y2="266.05585585585584" stroke="#111" stroke-width="0.6"/>
<line x1="362" y1="247.64893617021278" x2="362" y2="249.34893617021277" stroke="#111" stroke-width="0.6"/>
<line x1="368" y1="254.31304347826085" x2="368" y2="256.01304347826084" stroke="#111" stroke-width="0.6"/>
<line x1="374" y1="257.8262295081967" x2="374" y2="259.5262295081967" stroke="#111" stroke-width="0.6"/>
<line x1="380" y1="260.5853658536585" x2="380" y2="262.2853658536585" stroke="#111" stroke-width="0.6"/>
<line x1="386" y1="263.0192307692308" x2="386" y2="264.71923076923076" stroke="#111" stroke-width="0.6"/>
<line x1="392" y1="266.04754098360655" x2="392" y2="267.74754098360654" stroke="#111" stroke-width="0.6"/>
<line x1="398" y1="268.7483870967742" x2="398" y2="270.4483870967742" stroke="#111" stroke-width="0.6"/>
<line x1="404" y1="269.52258064516127" x2="404" y2="271.22258064516126" stroke="#111" stroke-width="0.6"/>
<line x1="412" y1="270.32272727272726" x2="412" y2="272.02272727272725" stroke="#111" stroke-width="0.6"/>
<line x1="420" y1="271.4008620689655" x2="420" y2="273.1008620689655" stroke="#111" stroke-width="0.6"/>
<line x1="430" y1="271.48706896551727" x2="430" y2="273.18706896551726" stroke="#111" stroke-width="0.6"/>
<line x1="438" y1="271.5560344827586" x2="438" y2="273.2560344827586" stroke="#111" stroke-width="0.6"/>
<line x1="448" y1="273.1268656716418" x2="448" y2="274.82686567164177" stroke="#111" stroke-width="0.6"/>
<line x1="456" y1="274.4" x2="456" y2="276.09999999999997" stroke="#111" stroke-width="0.6"/>
<line x1="462" y1="274.4" x2="462" y2="276.09999999999997" stroke="#111" stroke-width="0.6"/>
<line x1="468" y1="274.4" x2="468" y2="276.09999999999997" stroke="#111" stroke-width="0.6"/>
<line x1="474" y1="274.4" x2="474" y2="276.09999999999997" stroke="#111" stroke-width="0.6"/>
<line x1="480" y1="274.4" x2="480" y2="276.09999999999997" stroke="#111" stroke-width="0.6"/>
<line x1="486" y1="274.4" x2="486" y2="276.09999999999997" stroke="#111" stroke-width="0.6"/>
<line x1="490" y1="274.4" x2="490" y2="276.09999999999997" stroke="#111" stroke-width="0.6"/>
<line x1="494" y1="274.4" x2="494" y2="276.09999999999997" stroke="#111" stroke-width="0.6"/>
<line x1="498" y1="274.4" x2="498" y2="276.09999999999997" stroke="#111" stroke-width="0.6"/>
<line x1="502" y1="274.4" x2="502" y2="276.09999999999997" stroke="#111" stroke-width="0.6"/>
<line x1="506" y1="274.4" x2="506" y2="276.09999999999997" stroke="#111" stroke-width="0.6"/>
</svg></div></body></html>
